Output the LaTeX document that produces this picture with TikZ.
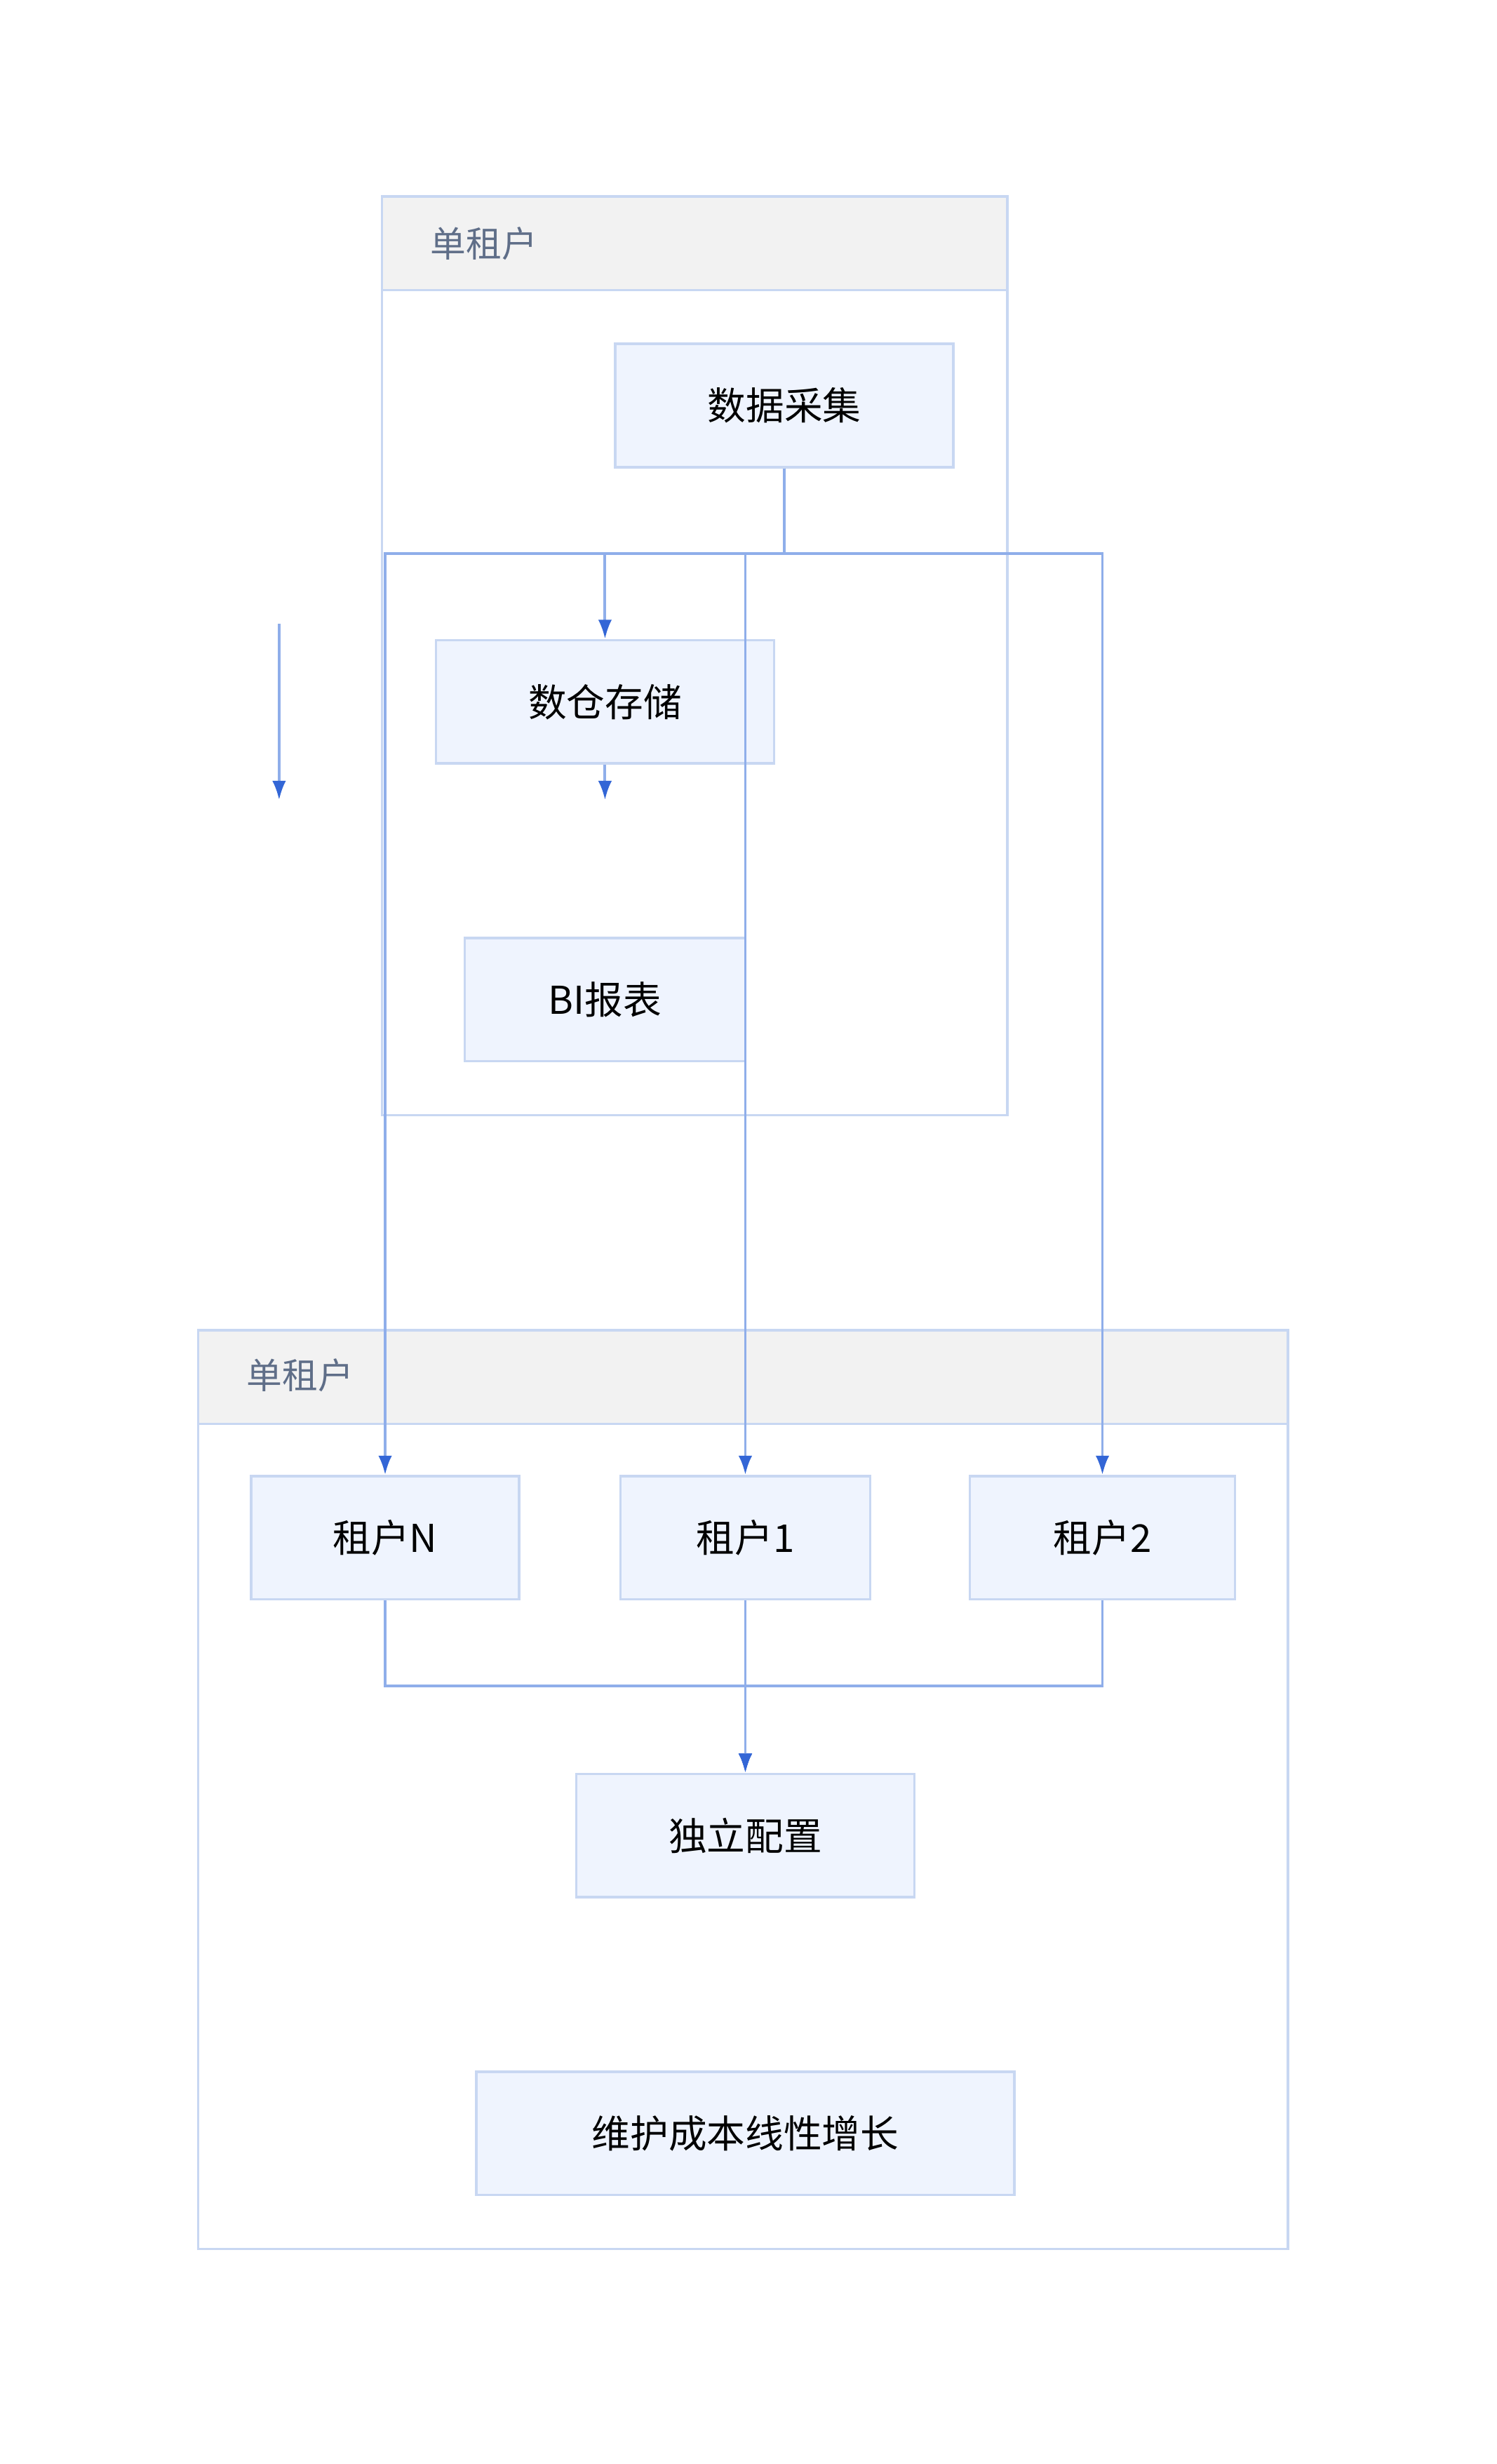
\documentclass[tikz,border=0pt]{standalone}
\usepackage{fontspec}
\setmainfont{Noto Sans CJK SC}
\usetikzlibrary{arrows.meta,positioning}
\definecolor{lineblue}{HTML}{8FAEEA}
\definecolor{tipblue}{HTML}{3366D6}
\definecolor{boxfill}{HTML}{EFF4FE}
\definecolor{boxdraw}{HTML}{C8D7F2}
\definecolor{headfill}{HTML}{F2F2F2}
\definecolor{headtext}{HTML}{5F6E88}
\tikzset{
  box/.style={draw=boxdraw, fill=boxfill, line width=0.9pt, inner sep=0pt, font=\fontsize{14}{16}\selectfont},
  grp/.style={draw=boxdraw, line width=0.9pt},
  head/.style={draw=boxdraw, fill=headfill, line width=0.9pt},
  glabel/.style={text=headtext, font=\fontsize{13}{15}\selectfont, anchor=west},
  link/.style={draw=lineblue, line width=1pt},
  flow/.style={link, -{Latex[length=7pt,width=5pt,color=tipblue]}}
}
\begin{document}
\begin{tikzpicture}[x=0.02cm, y=-0.02cm]
\useasboundingbox (0,0) rectangle (960,1580);

% groups
\draw[grp] (245,126) rectangle (646,715);
\draw[head] (245,126) rectangle (646,186);
\node[glabel] (g1) at (270,156) {单租户};
\draw[grp] (127,853) rectangle (826,1442);
\draw[head] (127,853) rectangle (826,913);
\node[glabel] (g2) at (152,882) {单租户};

% nodes
\node[box, minimum width=217*0.02cm, minimum height=79*0.02cm] (collect) at (503,260) {数据采集};
\node[box, minimum width=217*0.02cm, minimum height=79*0.02cm] (store) at (388,450) {数仓存储};
\node[box, minimum width=180*0.02cm, minimum height=79*0.02cm] (bi) at (388,641) {BI报表};
\node[box, minimum width=172*0.02cm, minimum height=79*0.02cm] (tn) at (247,986) {租户N};
\node[box, minimum width=160*0.02cm, minimum height=79*0.02cm] (t1) at (478,986) {租户1};
\node[box, minimum width=170*0.02cm, minimum height=79*0.02cm] (t2) at (707,986) {租户2};
\node[box, minimum width=217*0.02cm, minimum height=79*0.02cm] (conf) at (478,1177) {独立配置};
\node[box, minimum width=345*0.02cm, minimum height=79*0.02cm] (cost) at (478,1368) {维护成本线性增长};

% free ends
\coordinate (a1) at (179,400);
\coordinate (a2) at (179,513);
\coordinate (s2) at (388,513);

% connectors
\draw[flow] (collect.south) |- (388,355) -- (store.north);
\draw[flow] (collect.south) |- (478,355) -- (t1.north);
\draw[flow] (collect.south) |- (247,355) -- (tn.north);
\draw[flow] (collect.south) |- (707,355) -- (t2.north);
\draw[flow] (store.south) -- (s2);
\draw[flow] (a1) -- (a2);
\draw[flow] (tn.south) |- (478,1081) -- (conf.north);
\draw[flow] (t2.south) |- (478,1081) -- (conf.north);
\draw[flow] (t1.south) -- (conf.north);
\end{tikzpicture}
\end{document}
